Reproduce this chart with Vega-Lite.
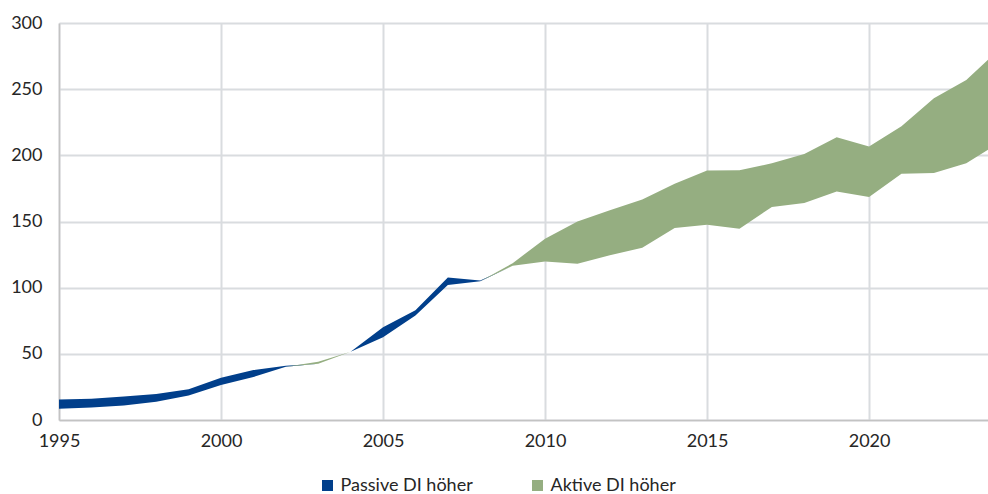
{
  "$schema": "https://vega.github.io/schema/vega-lite/v6.json",
  "autosize": {"type": "none"},
  "padding": {"left": 59, "top": 23, "right": 0, "bottom": 74},
  "width": 929,
  "height": 397,
  "background": "white",
  "config": {
    "font": "Lato",
    "view": {"stroke": null},
    "axis": {"labelFont": "Lato", "labelFontSize": 18, "labelColor": "#262626", "ticks": false, "title": null, "gridColor": "#d9dcdf", "gridWidth": 2, "domainColor": "#c3c3c3", "domainWidth": 1.5},
    "legend": {"labelFont": "Lato", "labelFontSize": 18, "labelColor": "#262626"}
  },
  "data": {"values": [
    {"Jahr": 1995, "Reihe": "Passive DI höher", "unten": 8.5, "oben": 15.5},
    {"Jahr": 1996, "Reihe": "Passive DI höher", "unten": 9.5, "oben": 16},
    {"Jahr": 1997, "Reihe": "Passive DI höher", "unten": 11, "oben": 17.7},
    {"Jahr": 1998, "Reihe": "Passive DI höher", "unten": 13.8, "oben": 19.7},
    {"Jahr": 1999, "Reihe": "Passive DI höher", "unten": 18.5, "oben": 23.3},
    {"Jahr": 2000, "Reihe": "Passive DI höher", "unten": 26.5, "oben": 32},
    {"Jahr": 2001, "Reihe": "Passive DI höher", "unten": 32.5, "oben": 37.8},
    {"Jahr": 2002, "Reihe": "Passive DI höher", "unten": 40.3, "oben": 41},
    {"Jahr": 2003, "Reihe": "Passive DI höher", "unten": 42.5, "oben": 42.5},
    {"Jahr": 2004, "Reihe": "Passive DI höher", "unten": 51.5, "oben": 51.5},
    {"Jahr": 2005, "Reihe": "Passive DI höher", "unten": 62.5, "oben": 70},
    {"Jahr": 2006, "Reihe": "Passive DI höher", "unten": 79, "oben": 83},
    {"Jahr": 2007, "Reihe": "Passive DI höher", "unten": 102, "oben": 107.7},
    {"Jahr": 2008, "Reihe": "Passive DI höher", "unten": 104.8, "oben": 105.5},
    {"Jahr": 2009, "Reihe": "Passive DI höher", "unten": 116.5, "oben": 116.5},
    {"Jahr": 2010, "Reihe": "Passive DI höher", "unten": 119.7, "oben": 119.7},
    {"Jahr": 2011, "Reihe": "Passive DI höher", "unten": 118, "oben": 118},
    {"Jahr": 2012, "Reihe": "Passive DI höher", "unten": 124.5, "oben": 124.5},
    {"Jahr": 2013, "Reihe": "Passive DI höher", "unten": 130.2, "oben": 130.2},
    {"Jahr": 2014, "Reihe": "Passive DI höher", "unten": 145, "oben": 145},
    {"Jahr": 2015, "Reihe": "Passive DI höher", "unten": 147.5, "oben": 147.5},
    {"Jahr": 2016, "Reihe": "Passive DI höher", "unten": 144.5, "oben": 144.5},
    {"Jahr": 2017, "Reihe": "Passive DI höher", "unten": 161, "oben": 161},
    {"Jahr": 2018, "Reihe": "Passive DI höher", "unten": 164, "oben": 164},
    {"Jahr": 2019, "Reihe": "Passive DI höher", "unten": 172.7, "oben": 172.7},
    {"Jahr": 2020, "Reihe": "Passive DI höher", "unten": 168.6, "oben": 168.6},
    {"Jahr": 2021, "Reihe": "Passive DI höher", "unten": 186, "oben": 186},
    {"Jahr": 2022, "Reihe": "Passive DI höher", "unten": 186.6, "oben": 186.6},
    {"Jahr": 2023, "Reihe": "Passive DI höher", "unten": 194, "oben": 194},
    {"Jahr": 2024, "Reihe": "Passive DI höher", "unten": 209.3, "oben": 209.3},
    {"Jahr": 1995, "Reihe": "Aktive DI höher", "unten": 8.5, "oben": 8.5},
    {"Jahr": 1996, "Reihe": "Aktive DI höher", "unten": 9.5, "oben": 9.5},
    {"Jahr": 1997, "Reihe": "Aktive DI höher", "unten": 11, "oben": 11},
    {"Jahr": 1998, "Reihe": "Aktive DI höher", "unten": 13.8, "oben": 13.8},
    {"Jahr": 1999, "Reihe": "Aktive DI höher", "unten": 18.5, "oben": 18.5},
    {"Jahr": 2000, "Reihe": "Aktive DI höher", "unten": 26.5, "oben": 26.5},
    {"Jahr": 2001, "Reihe": "Aktive DI höher", "unten": 32.5, "oben": 32.5},
    {"Jahr": 2002, "Reihe": "Aktive DI höher", "unten": 40.3, "oben": 40.3},
    {"Jahr": 2003, "Reihe": "Aktive DI höher", "unten": 42.5, "oben": 44},
    {"Jahr": 2004, "Reihe": "Aktive DI höher", "unten": 51.5, "oben": 51.5},
    {"Jahr": 2005, "Reihe": "Aktive DI höher", "unten": 62.5, "oben": 62.5},
    {"Jahr": 2006, "Reihe": "Aktive DI höher", "unten": 79, "oben": 79},
    {"Jahr": 2007, "Reihe": "Aktive DI höher", "unten": 102, "oben": 102},
    {"Jahr": 2008, "Reihe": "Aktive DI höher", "unten": 104.8, "oben": 104.8},
    {"Jahr": 2009, "Reihe": "Aktive DI höher", "unten": 116.5, "oben": 118.5},
    {"Jahr": 2010, "Reihe": "Aktive DI höher", "unten": 119.7, "oben": 137},
    {"Jahr": 2011, "Reihe": "Aktive DI höher", "unten": 118, "oben": 150},
    {"Jahr": 2012, "Reihe": "Aktive DI höher", "unten": 124.5, "oben": 158.5},
    {"Jahr": 2013, "Reihe": "Aktive DI höher", "unten": 130.2, "oben": 166.7},
    {"Jahr": 2014, "Reihe": "Aktive DI höher", "unten": 145, "oben": 178.6},
    {"Jahr": 2015, "Reihe": "Aktive DI höher", "unten": 147.5, "oben": 188.5},
    {"Jahr": 2016, "Reihe": "Aktive DI höher", "unten": 144.5, "oben": 188.7},
    {"Jahr": 2017, "Reihe": "Aktive DI höher", "unten": 161, "oben": 194},
    {"Jahr": 2018, "Reihe": "Aktive DI höher", "unten": 164, "oben": 201},
    {"Jahr": 2019, "Reihe": "Aktive DI höher", "unten": 172.7, "oben": 213.6},
    {"Jahr": 2020, "Reihe": "Aktive DI höher", "unten": 168.6, "oben": 206.7},
    {"Jahr": 2021, "Reihe": "Aktive DI höher", "unten": 186, "oben": 222},
    {"Jahr": 2022, "Reihe": "Aktive DI höher", "unten": 186.6, "oben": 243.2},
    {"Jahr": 2023, "Reihe": "Aktive DI höher", "unten": 194, "oben": 257},
    {"Jahr": 2024, "Reihe": "Aktive DI höher", "unten": 209.3, "oben": 279.8}
  ]},
  "mark": {"type": "area", "clip": true, "interpolate": "linear", "opacity": 1},
  "encoding": {
    "x": {"field": "Jahr", "type": "quantitative",
      "scale": {"domain": [1995, 2023.67], "nice": false, "zero": false},
      "axis": {"values": [1995, 2000, 2005, 2010, 2015, 2020], "format": "d", "labelFlush": false, "labelPadding": 12, "grid": true, "labelOverlap": false}},
    "y": {"field": "unten", "type": "quantitative",
      "scale": {"domain": [0, 300], "nice": false},
      "axis": {"values": [0, 50, 100, 150, 200, 250, 300], "labelPadding": 17, "grid": true, "domain": true}},
    "y2": {"field": "oben"},
    "color": {"field": "Reihe", "type": "nominal",
      "scale": {"domain": ["Passive DI höher", "Aktive DI höher"], "range": ["#013f8b", "#95ae81"]},
      "legend": {"title": null, "orient": "none", "direction": "horizontal", "legendX": 259.5, "legendY": 453.5, "symbolType": "square", "symbolSize": 121, "symbolStrokeWidth": 0, "labelOffset": 4, "columnPadding": 55, "padding": 0, "labelLimit": 300}},
    "order": {"field": "Reihe", "sort": "descending"}
  }
}
